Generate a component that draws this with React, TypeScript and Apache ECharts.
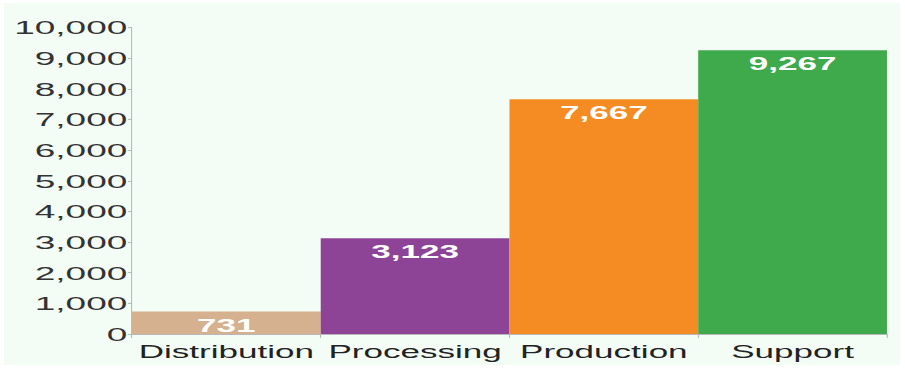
import React, { useEffect, useRef } from "react";
import * as echarts from "echarts";

const categories = ["Distribution", "Processing", "Production", "Support"];
const values = [731, 3123, 7667, 9267];
const barColors = ["#d6b18f", "#8e4496", "#f58c23", "#3faa4b"];
const yMin = 0;
const yMax = 10000;
const yInterval = 1000;

const OUTER_W = 896;
const OUTER_H = 362;
const INNER_W = 460;
const SCALE_X = OUTER_W / INNER_W;

export default function App() {
  const ref = useRef<HTMLDivElement>(null);

  useEffect(() => {
    if (!ref.current) return;
    const chart = echarts.init(ref.current, null, { renderer: "svg" });
    const font = "'Liberation Sans', Arial, sans-serif";
    chart.setOption({
      animation: false,
      backgroundColor: "transparent",
      grid: { left: 65.7, right: 6.7, top: 24.7, bottom: 31, containLabel: false },
      xAxis: {
        type: "category",
        data: categories,
        axisLine: { show: true, lineStyle: { color: "#b8b8b8", width: 1 } },
        axisTick: { show: true, length: 4, lineStyle: { color: "#b8b8b8", width: 0.55 } },
        axisLabel: {
          color: "#222",
          fontSize: 18,
          fontFamily: font,
          margin: 9,
          interval: 0,
          hideOverlap: false,
        },
        splitLine: { show: false },
      },
      yAxis: {
        type: "value",
        min: yMin,
        max: yMax,
        interval: yInterval,
        axisLine: { show: true, lineStyle: { color: "#b8b8b8", width: 0.55 } },
        axisTick: { show: true, length: 2, lineStyle: { color: "#b8b8b8", width: 1 } },
        axisLabel: {
          color: "#333",
          fontSize: 19,
          fontFamily: font,
          margin: 2.4,
          formatter: (v: number) => v.toLocaleString("en-US"),
        },
        splitLine: { show: false },
      },
      series: [
        {
          type: "bar",
          barCategoryGap: "0%",
          data: values.map((v, i) => ({ value: v, itemStyle: { color: barColors[i] } })),
          label: {
            show: true,
            position: "insideTop",
            distance: 5,
            color: "#ffffff",
            fontWeight: "bold",
            fontSize: 18,
            fontFamily: font,
            formatter: (p: any) => Number(p.value).toLocaleString("en-US"),
          },
        },
      ],
    });
    return () => chart.dispose();
  }, []);

  return (
    <div
      style={{
        position: "absolute",
        left: 4,
        top: 3,
        width: OUTER_W,
        height: OUTER_H,
        background: "#f3fdf5",
        overflow: "hidden",
      }}
    >
      <div
        ref={ref}
        style={{
          width: INNER_W,
          height: OUTER_H,
          transform: `scaleX(${SCALE_X})`,
          transformOrigin: "0 0",
        }}
      />
    </div>
  );
}
